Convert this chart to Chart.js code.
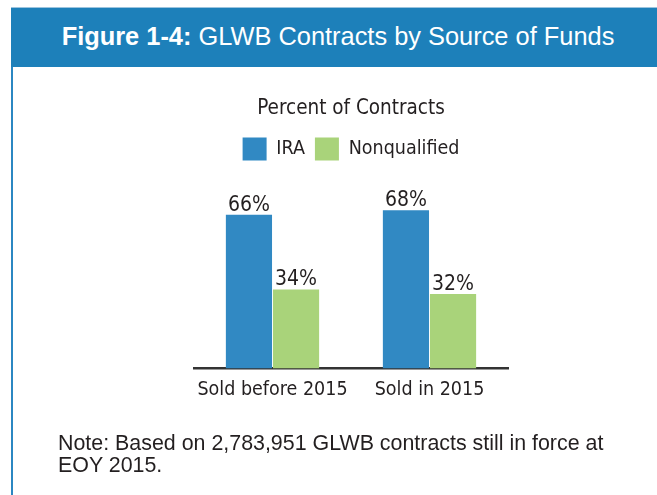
<!DOCTYPE html>
<html>
<head>
<meta charset="utf-8">
<script src="https://cdn.jsdelivr.net/npm/chart.js@4/dist/chart.umd.min.js"></script>
<style>
    body { margin: 0; background: #fff; }
    #page { position: relative; width: 657px; height: 495px; overflow: hidden; }
    #header {
        position: absolute; left: 11px; top: 7px; width: 646px; height: 60px;
        background: #1d80ba; border-top: 1px solid #9cc4de; box-sizing: border-box;
        color: #fff; font-family: "Liberation Sans", Arial, sans-serif; font-size: 25.4px;
        line-height: 57px; text-align: center; white-space: nowrap;
    }
    #header span { padding-left: 8px; }
    #header b { font-weight: bold; }
    #leftline { position: absolute; left: 11px; top: 67px; width: 2px; height: 428px; background: #2b87c2; }
    #chart-holder { position: absolute; left: 0; top: 0; width: 657px; height: 495px; }
    #note {
        position: absolute; left: 58px; top: 432px; width: 580px;
        font-family: "Liberation Sans", Arial, sans-serif; font-size: 21.4px; line-height: 22px;
        color: #231f20;
    }
</style>
</head>
<body>
<div id="page">
    <div id="header"><span><b>Figure 1-4:</b> GLWB Contracts by Source of Funds</span></div>
    <div id="leftline"></div>
    <div id="chart-holder"><canvas id="chBar"></canvas></div>
    <div id="note">Note: Based on 2,783,951 GLWB contracts still in force at EOY 2015.</div>
</div>
<script>
// chart data
var categories = ['Sold before 2015', 'Sold in 2015'];
var iraValues = [66, 68];
var nonqualifiedValues = [34, 32];

// chart colors
var colors = ['#3189c3', '#a9d37a'];
var chartFont = '"DejaVu Sans Condensed", "Liberation Sans Narrow", sans-serif';

// draws the "66%" labels above each bar
var valueLabels = {
    id: 'valueLabels',
    afterDatasetsDraw: function (chart) {
        var ctx = chart.ctx;
        ctx.save();
        ctx.font = '21px ' + chartFont;
        ctx.fillStyle = '#231f20';
        ctx.textAlign = 'center';
        ctx.textBaseline = 'alphabetic';
        chart.data.datasets.forEach(function (ds, i) {
            chart.getDatasetMeta(i).data.forEach(function (bar, j) {
                ctx.fillText(ds.data[j] + '%', bar.x, bar.y - 4);
            });
        });
        ctx.restore();
    }
};

window.onload = function onload() {
    var chBar = document.getElementById('chBar');
    new Chart(chBar, {
        type: 'bar',
        data: {
            labels: categories,
            datasets: [{
                label: 'IRA',
                data: iraValues,
                backgroundColor: colors[0],
                borderWidth: 0
            }, {
                label: 'Nonqualified',
                data: nonqualifiedValues,
                backgroundColor: colors[1],
                borderWidth: 0
            }]
        },
        options: {
            responsive: true,
            maintainAspectRatio: false,
            animation: false,
            categoryPercentage: 0.6,
            barPercentage: 0.98,
            layout: { padding: { left: 194, right: 149, top: 83, bottom: 83 } },
            plugins: {
                title: {
                    display: true,
                    text: 'Percent of Contracts',
                    color: '#231f20',
                    font: { family: chartFont, size: 20.5, weight: 'normal' },
                    padding: { top: 13, bottom: 7 }
                },
                legend: {
                    position: 'top',
                    labels: {
                        boxWidth: 24,
                        boxHeight: 23,
                        padding: 10,
                        color: '#231f20',
                        font: { family: chartFont, size: 19.5 }
                    }
                },
                tooltip: { enabled: false }
            },
            scales: {
                x: {
                    grid: { display: false, drawTicks: false },
                    border: { display: true, color: '#333333', width: 2.5 },
                    ticks: {
                        color: '#231f20', padding: 10, maxRotation: 0, autoSkip: false,
                        font: { family: chartFont, size: 19.5 }
                    }
                },
                y: {
                    display: false,
                    min: 0,
                    max: 85
                }
            }
        },
        plugins: [valueLabels]
    });
};
</script>
</body>
</html>
